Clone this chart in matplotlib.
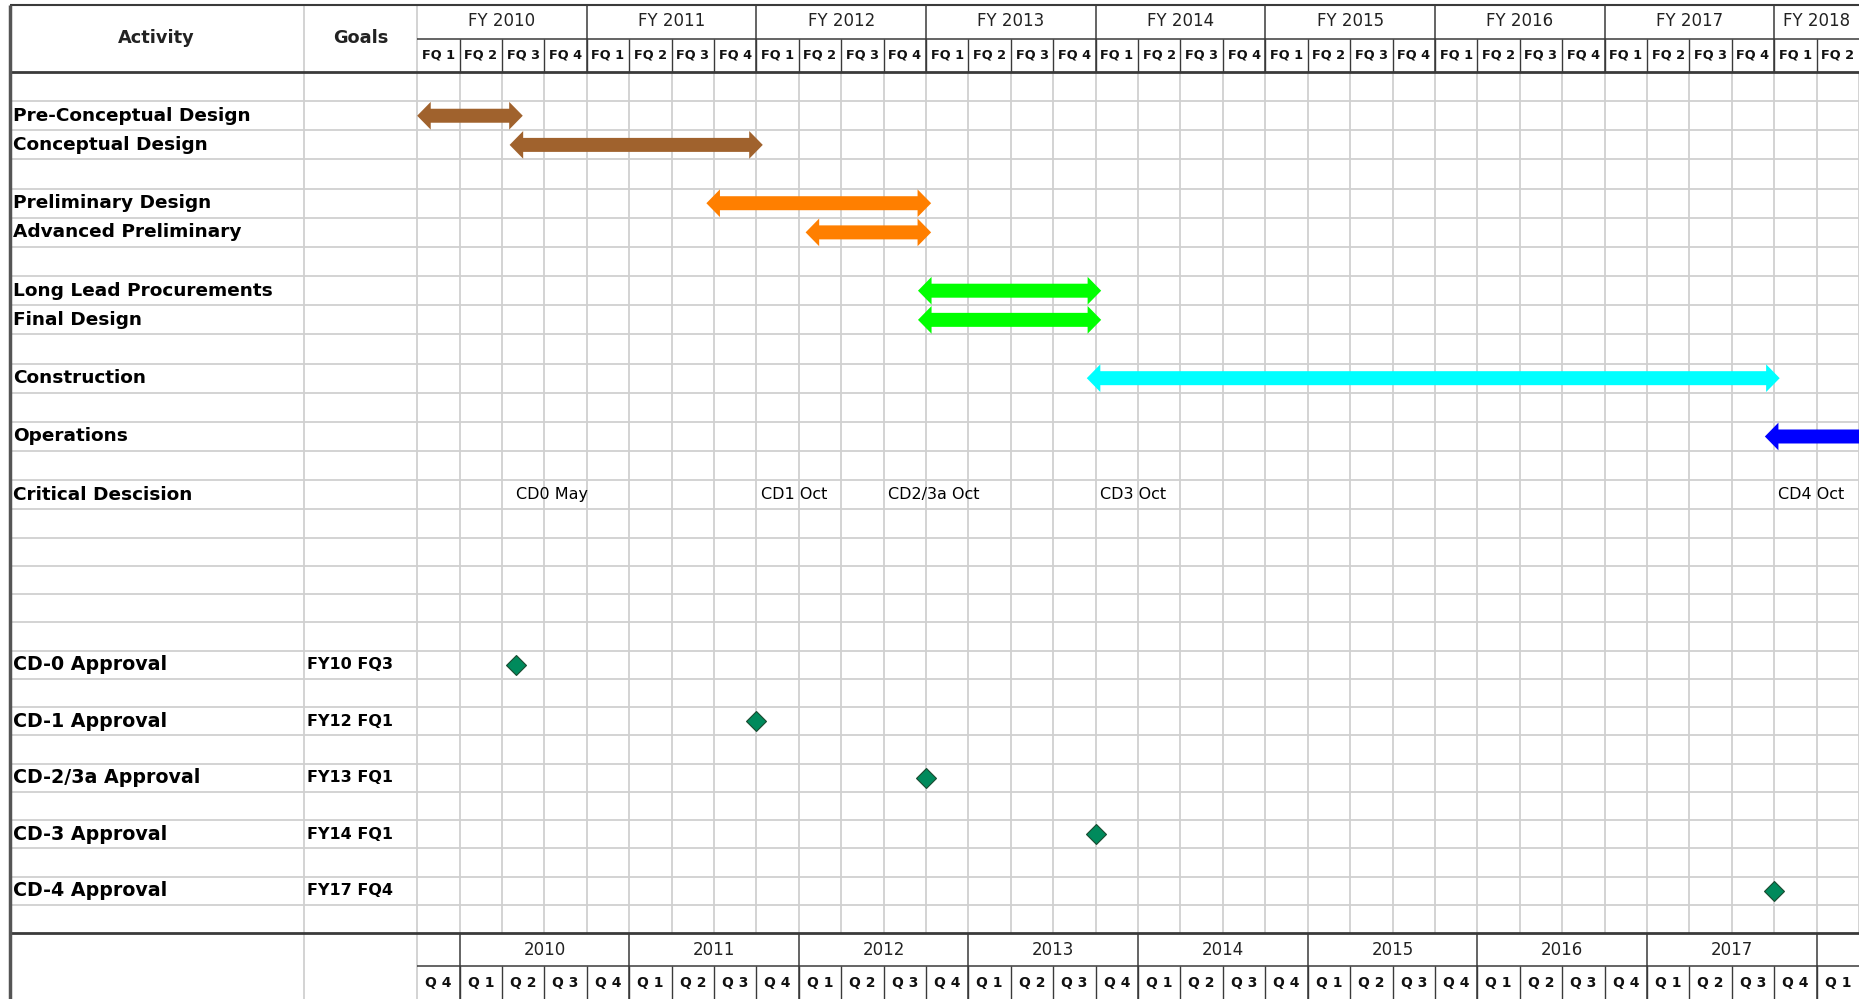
import matplotlib
matplotlib.use('Agg')
import matplotlib.pyplot as plt
import numpy as np
from matplotlib.patches import Polygon

# ---- data ----
fiscal_years = ['FY 2010', 'FY 2011', 'FY 2012', 'FY 2013', 'FY 2014',
                'FY 2015', 'FY 2016', 'FY 2017', 'FY 2018']
fq_labels = ['FQ 1', 'FQ 2', 'FQ 3', 'FQ 4'] * 8 + ['FQ 1', 'FQ 2']
cal_years = ['2010', '2011', '2012', '2013', '2014', '2015', '2016', '2017']
cal_q_labels = ['Q 4'] + ['Q 1', 'Q 2', 'Q 3', 'Q 4'] * 8 + ['Q 1']

activities = ['Pre-Conceptual Design', 'Conceptual Design', 'Preliminary Design',
              'Advanced Preliminary', 'Long Lead Procurements', 'Final Design',
              'Construction', 'Operations']
activity_rows = [1, 2, 4, 5, 7, 8, 10, 12]
# arrow tip positions in fiscal quarters from FY2010 FQ1
bar_start = [0.0, 2.18, 6.82, 9.16, 11.81, 11.81, 15.79, 31.78]
bar_end = [2.49, 8.15, 12.12, 12.12, 16.13, 16.13, 32.13, 35.0]
bar_colors = ['#a0622d', '#a0622d', '#ff7f00', '#ff7f00', '#00ff00', '#00ff00',
              '#00ffff', '#0000ff']

critical_row = 14
critical_labels = ['CD0 May', 'CD1 Oct', 'CD2/3a Oct', 'CD3 Oct', 'CD4 Oct']
critical_x = [2.33, 8.1, 11.1, 16.1, 32.1]

milestones = ['CD-0 Approval', 'CD-1 Approval', 'CD-2/3a Approval',
              'CD-3 Approval', 'CD-4 Approval']
milestone_goals = ['FY10 FQ3', 'FY12 FQ1', 'FY13 FQ1', 'FY14 FQ1', 'FY17 FQ4']
milestone_rows = [20, 22, 24, 26, 28]
milestone_q = [2.33, 8.0, 12.0, 16.0, 32.0]

# ---- layout ----
n_q = len(fq_labels)
row_heights = [1.0] * 15 + [0.969] * 15     # lower rows are a little shorter
row_edges = np.concatenate([[0], np.cumsum(row_heights)])
n_bottom = row_edges[-1]


def row_center(r):
    return (row_edges[r] + row_edges[r + 1]) / 2


def double_arrow(s, e, y, shaft=0.24, head=0.475, hl=0.32):
    # outline of a horizontal double-headed arrow in data units
    return [(s, y), (s + hl, y - head), (s + hl, y - shaft), (e - hl, y - shaft),
            (e - hl, y - head), (e, y), (e - hl, y + head), (e - hl, y + shaft),
            (s + hl, y + shaft), (s + hl, y + head)]


LEFT = -9.61
GOALS_X = -2.68
HDR_TOP = -2.30
HDR_MID = -1.13
BOT_MID = 30.66
BOTTOM = 32.0

grid_c = '#d0d0d0'
dark = '#3a3a3a'

fig = plt.figure(figsize=(18.59, 9.99), dpi=100)
ax = fig.add_axes([0, 0, 1, 1])
ax.set_xlim(-9.837, 34.0)
ax.set_ylim(31.79, -2.469)
ax.axis('off')

# light grid
ax.vlines(range(1, n_q + 1), 0, n_bottom, color=grid_c, lw=1.3, zorder=1)
ax.hlines(row_edges[1:-1], LEFT, n_q, color=grid_c, lw=1.3, zorder=1)
ax.vlines([GOALS_X, 0], HDR_TOP, BOTTOM, color=grid_c, lw=1.3, zorder=1)

# top header
ax.hlines(HDR_TOP, LEFT, n_q, color=dark, lw=1.5, zorder=2)
ax.hlines(HDR_MID, 0, n_q, color=dark, lw=1.1, zorder=2)
ax.hlines(0, LEFT, n_q, color=dark, lw=2.0, zorder=2)
ax.vlines(range(4, n_q, 4), HDR_TOP, 0, color=dark, lw=1.1, zorder=2)
ax.vlines(range(1, n_q), HDR_MID, 0, color=dark, lw=1.0, zorder=2)

# bottom header
ax.hlines(n_bottom, LEFT, n_q, color=dark, lw=2.0, zorder=2)
ax.hlines(BOT_MID, 0, n_q, color=dark, lw=1.1, zorder=2)
ax.vlines(range(1, n_q, 4), n_bottom, BOTTOM, color=dark, lw=1.1, zorder=2)
ax.vlines(range(1, n_q), BOT_MID, BOTTOM, color=dark, lw=1.0, zorder=2)

# left border
ax.vlines(LEFT, HDR_TOP, BOTTOM, color='#555555', lw=2.5, zorder=2)

# header text
ax.text((LEFT + GOALS_X) / 2, -1.17, 'Activity', ha='center', va='center',
        fontsize=12.8, fontweight='bold', color='#222222')
ax.text(GOALS_X / 2, -1.17, 'Goals', ha='center', va='center',
        fontsize=12.8, fontweight='bold', color='#222222')
for i, fy in enumerate(fiscal_years):
    s = 4 * i
    e = min(s + 4, n_q)
    ax.text((s + e) / 2, -1.74, fy, ha='center', va='center', fontsize=12,
            color='#222222')
for i, lab in enumerate(fq_labels):
    ax.text(i + 0.5, -0.58, lab, ha='center', va='center', fontsize=9.3,
            fontweight='bold', color='#111111')
for i, yr in enumerate(cal_years):
    ax.text(4 * i + 3, 30.1, yr, ha='center', va='center', fontsize=12,
            color='#222222')
for i, lab in enumerate(cal_q_labels):
    ax.text(i + 0.5, 31.24, lab, ha='center', va='center', fontsize=10,
            fontweight='bold', color='#111111')

# activities
for name, row, s, e, c in zip(activities, activity_rows, bar_start, bar_end, bar_colors):
    y = row_center(row)
    ax.text(-9.53, y, name, ha='left', va='center', fontsize=13.3,
            fontweight='bold')
    ax.add_patch(Polygon(double_arrow(s, e, y), closed=True, facecolor=c,
                         edgecolor='none', zorder=3))

# critical decisions
yc = row_center(critical_row)
ax.text(-9.53, yc, 'Critical Descision', ha='left', va='center',
        fontsize=13.3, fontweight='bold')
for lab, x in zip(critical_labels, critical_x):
    ax.text(x, yc, lab, ha='left', va='center', fontsize=11.5)

# milestones
for name, goal, row in zip(milestones, milestone_goals, milestone_rows):
    y = row_center(row)
    ax.text(-9.53, y, name, ha='left', va='center', fontsize=13.7,
            fontweight='bold')
    ax.text(-2.6, y, goal, ha='left', va='center', fontsize=11.5,
            fontweight='bold')
ax.plot(milestone_q, [row_center(r) for r in milestone_rows], 'D', ms=10,
        color='#008a5c', mec='#1a4a30', mew=0.8, zorder=4)

plt.savefig('out.png', dpi=100)
